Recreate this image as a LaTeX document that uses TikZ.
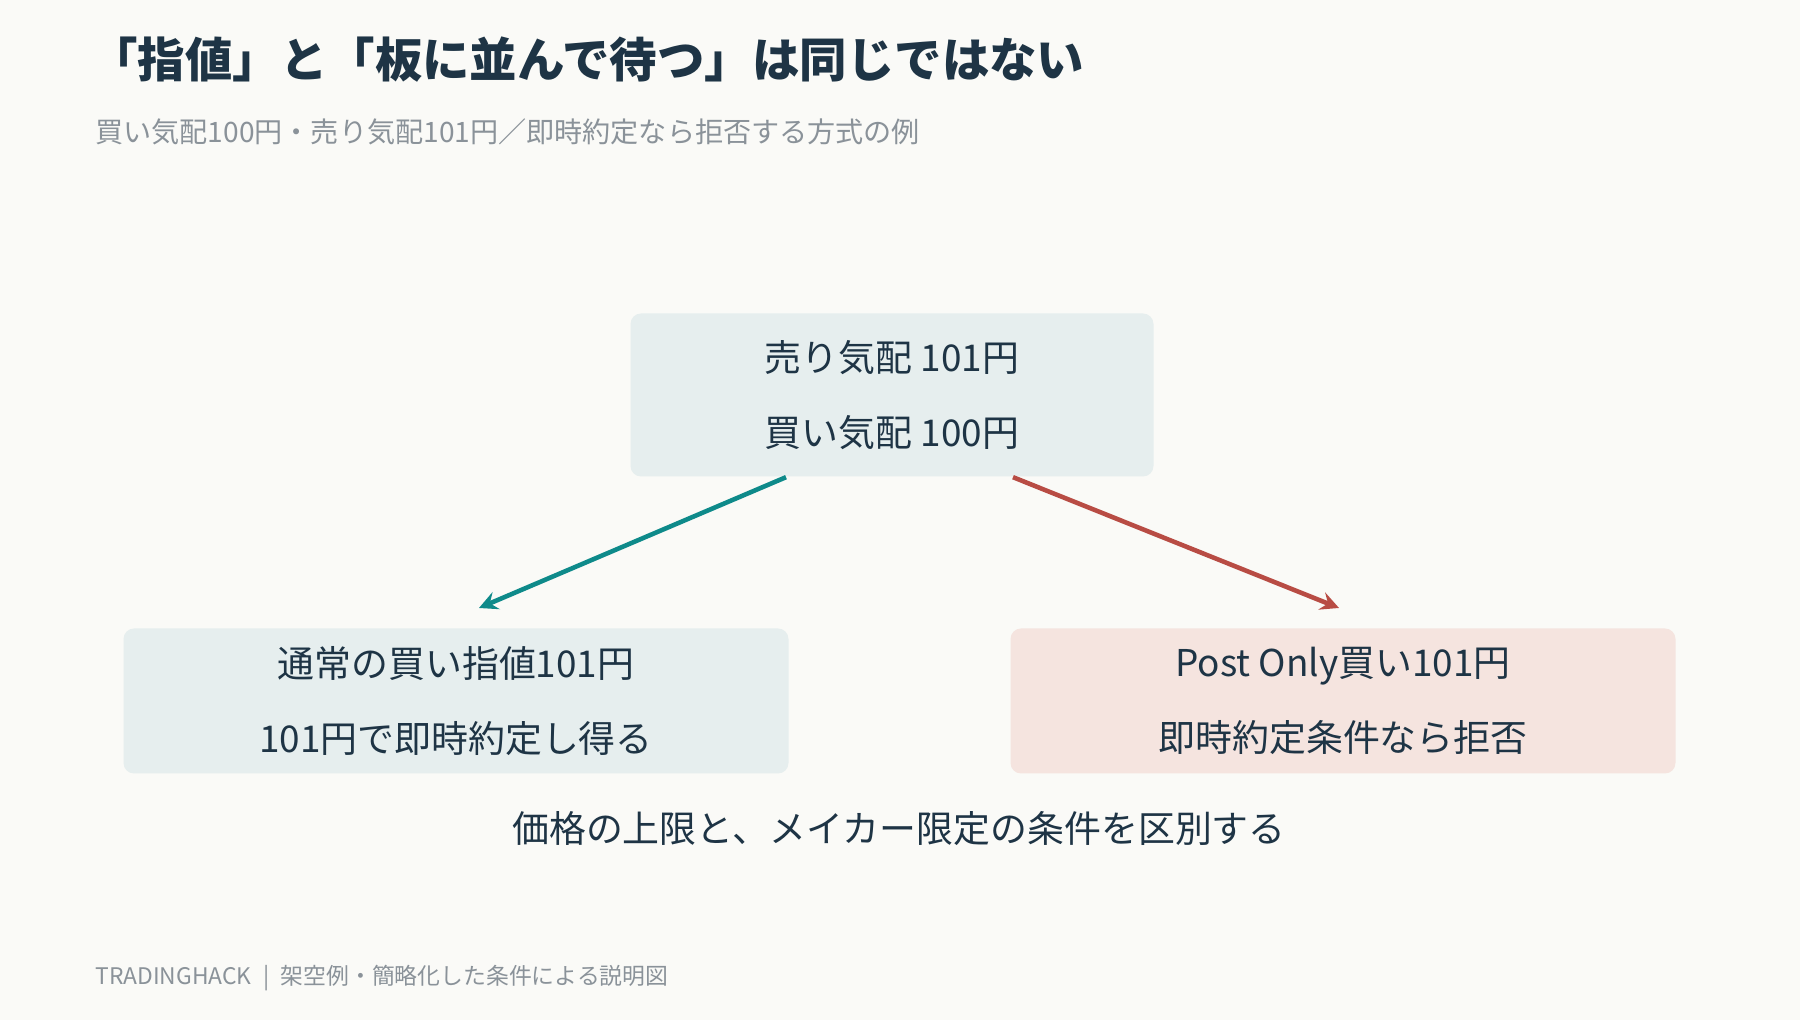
\documentclass[tikz,border=0pt]{standalone}
\usepackage{fontspec}
\setmainfont{Noto Sans CJK JP}
\usetikzlibrary{positioning}
\definecolor{bgcol}{HTML}{FAFAF7}
\definecolor{inkcol}{HTML}{1E3445}
\definecolor{greycol}{HTML}{8A9299}
\definecolor{tealbox}{HTML}{E6EEEE}
\definecolor{redbox}{HTML}{F5E4DF}
\definecolor{tealarr}{HTML}{0E8A8A}
\definecolor{redarr}{HTML}{B84C44}
\tikzset{
  quote/.style={rounded corners=3pt, inner sep=0pt, align=center, text=inkcol,
    font=\fontsize{10.5}{21.5}\selectfont},
  flow/.style={->, line width=1.3pt, >=stealth}
}
\begin{document}
\begin{tikzpicture}
  \fill[bgcol] (0,0) rectangle (18,10.2);
  \useasboundingbox (0,0) rectangle (18,10.2);
  % headings
  \node[anchor=west, text=inkcol, font=\fontsize{13.5}{16}\selectfont\bfseries] (title) at (0.78,9.6)
    {「指値」と「板に並んで待つ」は同じではない};
  \node[anchor=west, text=greycol, font=\fontsize{8}{10}\selectfont] (sub) at (0.83,8.88)
    {買い気配100円・売り気配101円／即時約定なら拒否する方式の例};
  % boxes
  \node[quote, fill=tealbox, minimum width=5.23cm, minimum height=1.63cm] (book) at (8.92,6.25)
    {売り気配 101円\\買い気配 100円};
  \node[quote, fill=tealbox, minimum width=6.65cm, minimum height=1.45cm] (plain) at (4.56,3.19)
    {通常の買い指値101円\\101円で即時約定し得る};
  \node[quote, fill=redbox, minimum width=6.65cm, minimum height=1.45cm] (post) at (13.43,3.19)
    {Post Only買い101円\\即時約定条件なら拒否};
  \coordinate (plaintip) at (4.79,4.12);
  \coordinate (posttip) at (13.39,4.12);
  \draw[flow, tealarr] ([xshift=-1.06cm]book.south) -- (plaintip);
  \draw[flow, redarr] ([xshift=1.21cm]book.south) -- (posttip);
  % notes
  \node[text=inkcol, font=\fontsize{10.5}{13}\selectfont] (note) at (8.99,1.91)
    {価格の上限と、メイカー限定の条件を区別する};
  \node[anchor=west, text=greycol, font=\fontsize{6.5}{8}\selectfont] (foot) at (0.83,0.42)
    {TRADINGHACK\enspace|\enspace 架空例・簡略化した条件による説明図};
\end{tikzpicture}
\end{document}
